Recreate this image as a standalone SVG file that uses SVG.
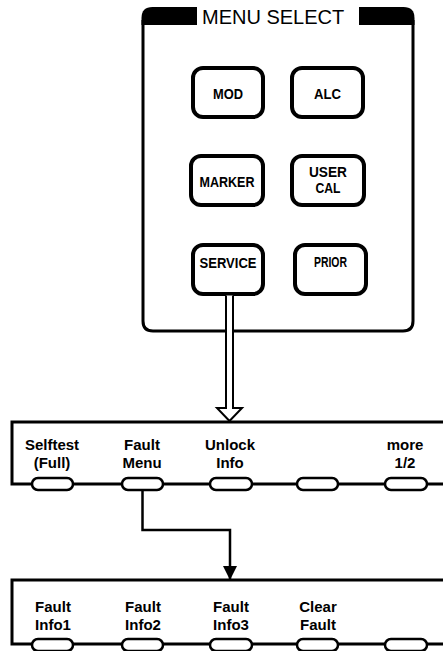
<svg xmlns="http://www.w3.org/2000/svg" width="443" height="651" viewBox="0 0 443 651">
<style>
.bg{fill:#fff}
.frame{fill:none;stroke:#000;stroke-width:3}
.key{fill:#fff;stroke:#000;stroke-width:4}
.soft{fill:#fff;stroke:#000;stroke-width:2.5}
.kt{font-family:"Liberation Sans",Arial,sans-serif;font-weight:bold;font-size:15px;text-anchor:middle;fill:#000}
.lt{font-family:"Liberation Sans",Arial,sans-serif;font-weight:bold;font-size:15px;text-anchor:middle;fill:#000}
.title{font-family:"Liberation Sans",Arial,sans-serif;font-size:20px;fill:#000}
.conn{fill:none;stroke:#000;stroke-width:2.5}
</style>
<defs>
<marker id="ah" markerWidth="14" markerHeight="14" refX="13" refY="7" orient="auto" markerUnits="userSpaceOnUse" viewBox="0 0 14 14">
<path d="M0,0 L14,7 L0,14 Z" fill="#000"/>
</marker>
</defs>
<rect class="bg" x="0" y="0" width="443" height="651"/>

<g id="menu-select">
<path class="frame" d="M143,20 L143,321 Q143,331 153,331 L403,331 Q413,331 413,321 L413,20"/>
<path d="M141.5,25 L141.5,18 Q141.5,7 152.5,7 L197,7 L197,25 Z" fill="#000"/>
<path d="M359,25 L359,7 L403.5,7 Q414.5,7 414.5,18 L414.5,25 Z" fill="#000"/>
<text class="title" x="202" y="24">MENU  SELECT</text>
</g>

<g id="btn-mod"><rect class="key" x="193" y="68" width="70" height="49" rx="10"/><text class="kt" x="228" y="99" textLength="30" lengthAdjust="spacingAndGlyphs">MOD</text></g>
<g id="btn-alc"><rect class="key" x="292" y="68" width="71" height="49" rx="10"/><text class="kt" x="327.5" y="99" textLength="27" lengthAdjust="spacingAndGlyphs">ALC</text></g>
<g id="btn-marker"><rect class="key" x="191" y="156" width="72" height="49" rx="10"/><text class="kt" x="227" y="187" textLength="55" lengthAdjust="spacingAndGlyphs">MARKER</text></g>
<g id="btn-usercal"><rect class="key" x="292" y="156" width="72" height="49" rx="10"/><text class="kt" x="328" y="177" textLength="38" lengthAdjust="spacingAndGlyphs">USER</text><text class="kt" x="328" y="193" textLength="25" lengthAdjust="spacingAndGlyphs">CAL</text></g>
<g id="btn-service"><rect class="key" x="193" y="245" width="70" height="49" rx="10"/><text class="kt" x="228" y="268" textLength="57" lengthAdjust="spacingAndGlyphs">SERVICE</text></g>
<g id="btn-prior"><rect class="key" x="295" y="245" width="71" height="49" rx="10"/><text class="kt" x="330.5" y="267" textLength="33" lengthAdjust="spacingAndGlyphs">PRIOR</text></g>

<g id="menu-bar-1">
<path class="frame" d="M445,422 L12,422 L12,484 L445,484"/>
<rect class="soft" x="32" y="478" width="41" height="12" rx="6"/>
<rect class="soft" x="122" y="478" width="41" height="12" rx="6"/>
<rect class="soft" x="210" y="478" width="42" height="12" rx="6"/>
<rect class="soft" x="297" y="478" width="41" height="12" rx="6"/>
<rect class="soft" x="385" y="478" width="42" height="12" rx="6"/>
<text class="lt" x="52" y="450">Selftest</text><text class="lt" x="52" y="468">(Full)</text>
<text class="lt" x="142" y="450">Fault</text><text class="lt" x="142" y="468">Menu</text>
<text class="lt" x="230" y="450">Unlock</text><text class="lt" x="230" y="468">Info</text>
<text class="lt" x="405" y="450">more</text><text class="lt" x="405" y="468">1/2</text>
</g>

<g id="menu-bar-2">
<path class="frame" d="M445,580 L12,580 L12,644 L445,644"/>
<rect class="soft" x="32" y="639" width="41" height="12" rx="6"/>
<rect class="soft" x="122" y="639" width="41" height="12" rx="6"/>
<rect class="soft" x="210" y="639" width="42" height="12" rx="6"/>
<rect class="soft" x="297" y="639" width="41" height="12" rx="6"/>
<rect class="soft" x="385" y="639" width="42" height="12" rx="6"/>
<text class="lt" x="53" y="612">Fault</text><text class="lt" x="53" y="630">Info1</text>
<text class="lt" x="143" y="612">Fault</text><text class="lt" x="143" y="630">Info2</text>
<text class="lt" x="231" y="612">Fault</text><text class="lt" x="231" y="630">Info3</text>
<text class="lt" x="318" y="612">Clear</text><text class="lt" x="318" y="630">Fault</text>
</g>

<g id="connectors">
<path d="M226,295.5 L226,408 L217,408 L229.5,421 L242,408 L233,408 L233,295.5" fill="#fff" stroke="#000" stroke-width="2"/>
<path class="conn" d="M142.5,491 L142.5,530 L230,530 L230,579" marker-end="url(#ah)"/>
</g>
</svg>
